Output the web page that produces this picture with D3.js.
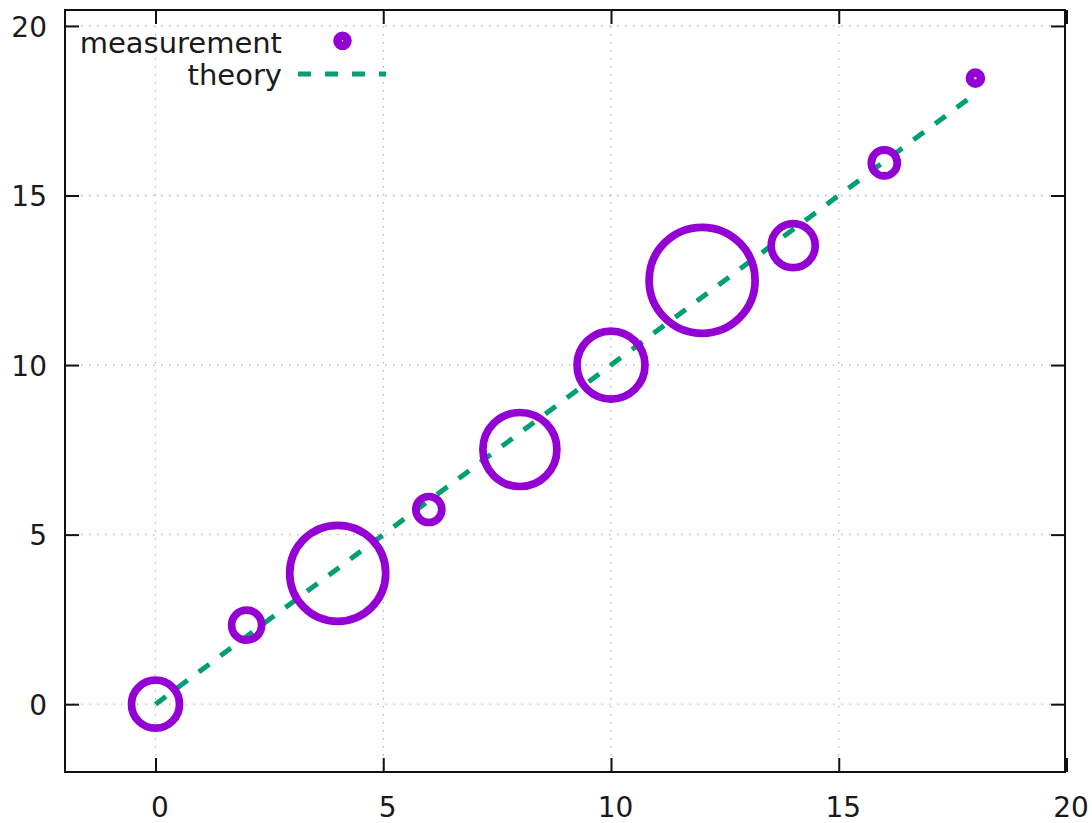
<!DOCTYPE html>
<html>
<head>
<meta charset="utf-8">
<script src="https://cdn.jsdelivr.net/npm/d3@7"></script>
<style>
  html, body { margin: 0; padding: 0; background: #fff; }
  svg { display: block; }
  text { font-family: "DejaVu Sans", sans-serif; fill: #1a1a1a; }
</style>
</head>
<body>
<svg id="chart" width="1092" height="823"></svg>
<script>
// ---- data ----
const xValues = [0, 2, 4, 6, 8, 10, 12, 14, 16, 18];
const yValues = [0, 2.33, 3.86, 5.74, 7.51, 10.0, 12.5, 13.52, 15.96, 18.46];
const errValues = [0.48, 0.30, 0.96, 0.26, 0.74, 0.68, 1.06, 0.44, 0.26, 0.11];
const theoryX = [0, 18];
const theoryY = [0, 18];
const xTicks = [0, 5, 10, 15, 20];
const yTicks = [0, 5, 10, 15, 20];
const legendLabels = ["measurement", "theory"];

// ---- layout ----
const svg = d3.select("#chart");
const pLeft = 65, pRight = 1065, pTop = 10, pBottom = 772;
const x = d3.scaleLinear().domain([-2, 20]).range([64.4, 1066.5]);
const y = d3.scaleLinear().domain([-2, 20.47]).range([pBottom, pTop]);
const rScale = d3.scaleLinear().domain([0, 1]).range([0, 50]);

const purple = "#9400d3", green = "#009e73";

// grid
const grid = svg.append("g");
grid.selectAll("line.gx").data(xTicks.filter(d => d > -2 && d < 20)).join("line")
  .attr("x1", d => x(d)).attr("x2", d => x(d))
  .attr("y1", pTop).attr("y2", pBottom)
  .attr("stroke", "#b4b4b4").attr("stroke-width", 1.3).attr("stroke-dasharray", "1.5,6.5");
grid.selectAll("line.gy").data(yTicks.filter(d => d > -2 && d <= 20)).join("line")
  .attr("y1", d => y(d)).attr("y2", d => y(d))
  .attr("x1", pLeft).attr("x2", pRight)
  .attr("stroke", "#b4b4b4").attr("stroke-width", 1.3).attr("stroke-dasharray", "1.5,6.5");

// axes with inward ticks (mirrored)
const tickLen = 14;
const axB = svg.append("g").attr("transform", `translate(0,${pBottom})`)
  .call(d3.axisBottom(x).tickValues(xTicks).tickSize(-tickLen).tickPadding(25));
const axT = svg.append("g").attr("transform", `translate(0,${pTop})`)
  .call(d3.axisTop(x).tickValues(xTicks).tickSize(-tickLen).tickFormat(""));
const axL = svg.append("g").attr("transform", `translate(${pLeft},0)`)
  .call(d3.axisLeft(y).tickValues(yTicks).tickSize(-tickLen).tickPadding(18));
const axR = svg.append("g").attr("transform", `translate(${pRight},0)`)
  .call(d3.axisRight(y).tickValues(yTicks).tickSize(-tickLen).tickFormat(""));
[axB, axT, axL, axR].forEach(a => {
  a.select(".domain").remove();
  a.selectAll(".tick line").attr("stroke", "#111").attr("stroke-width", 2);
  a.selectAll("text").style("font-family", "'DejaVu Sans', sans-serif")
    .style("font-size", "28px").attr("fill", "#1a1a1a");
});
axB.selectAll("text").attr("dx", 4);
axL.selectAll("text").attr("dy", "0.36em");

// frame
svg.append("rect").attr("x", pLeft).attr("y", pTop)
  .attr("width", pRight - pLeft).attr("height", pBottom - pTop)
  .attr("fill", "none").attr("stroke", "#111").attr("stroke-width", 2);

// theory line
const line = d3.line().x(d => x(d[0])).y(d => y(d[1]));
svg.append("path").datum(theoryX.map((v, i) => [v, theoryY[i]]))
  .attr("d", line).attr("fill", "none").attr("stroke", green)
  .attr("stroke-width", 5).attr("stroke-dasharray", "13,14");

// measurement circles
svg.append("g").selectAll("circle").data(xValues.map((v, i) => ({x: v, y: yValues[i], e: errValues[i]})))
  .join("circle")
  .attr("cx", d => x(d.x)).attr("cy", d => y(d.y)).attr("r", d => rScale(d.e))
  .attr("fill", "none").attr("stroke", purple).attr("stroke-width", d => d.e < 0.2 ? 8.6 : 7.7);

// legend
const lg = svg.append("g");
lg.append("text").attr("x", 282).attr("y", 53).attr("text-anchor", "end")
  .style("font-size", "29px").text(legendLabels[0]);
lg.append("circle").attr("cx", 342.5).attr("cy", 40.8).attr("r", 5)
  .attr("fill", "none").attr("stroke", purple).attr("stroke-width", 8.6);
lg.append("text").attr("x", 282).attr("y", 85).attr("text-anchor", "end")
  .style("font-size", "29px").text(legendLabels[1]);
lg.append("line").attr("x1", 298).attr("x2", 386).attr("y1", 74).attr("y2", 74)
  .attr("stroke", green).attr("stroke-width", 5).attr("stroke-dasharray", "13,14");
</script>
</body>
</html>
